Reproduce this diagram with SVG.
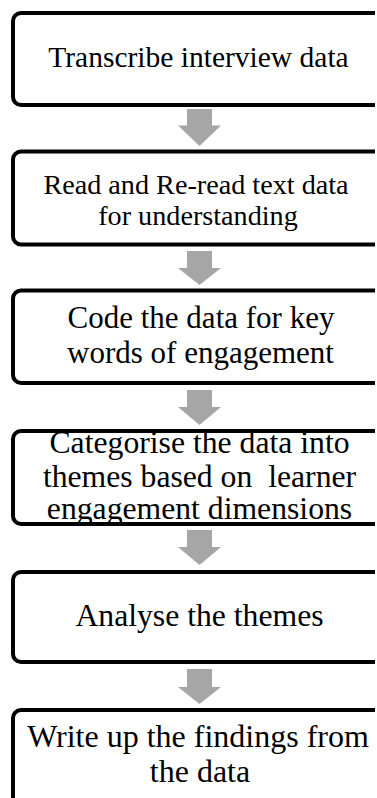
<svg xmlns="http://www.w3.org/2000/svg" width="377" height="798" viewBox="0 0 377 798">
  <defs>
    <clipPath id="page">
      <rect x="0" y="0" width="375" height="798"/>
    </clipPath>
    <style>
      .box { fill: #ffffff; stroke: #000000; stroke-width: 4; }
      .arrow { fill: #a6a6a6; stroke: none; }
      .label { font-family: "Liberation Serif", "Times New Roman", serif; fill: #000000; text-anchor: middle; }
    </style>
  </defs>
  <rect x="0" y="0" width="377" height="798" fill="#ffffff"/>

  <g id="connectors">
    <polygon class="arrow" points="187,109 212,109 212,125.5 221,125.5 199.5,146 178,125.5 187,125.5"/>
    <polygon class="arrow" points="187,251 212,251 212,268 221,268 199.5,285 178,268 187,268"/>
    <polygon class="arrow" points="187,390 212,390 212,407 221,407 199.5,425 178,407 187,407"/>
    <polygon class="arrow" points="187,530 212,530 212,547 221,547 199.5,565 178,547 187,547"/>
    <polygon class="arrow" points="187,669 212,669 212,687 221,687 199.5,704 178,687 187,687"/>
  </g>

  <g id="step1">
    <rect class="box" x="13" y="13" width="373" height="92" rx="8" clip-path="url(#page)"/>
    <text class="label" x="198.5" y="67" font-size="29.5">Transcribe interview data</text>
  </g>

  <g id="step2">
    <rect class="box" x="13" y="151.5" width="373" height="93" rx="8" clip-path="url(#page)"/>
    <text class="label" x="196" y="194" font-size="28.2">Read and Re-read text data</text>
    <text class="label" x="198" y="225" font-size="28.2">for understanding</text>
  </g>

  <g id="step3">
    <rect class="box" x="13" y="290.5" width="373" height="92.5" rx="8" clip-path="url(#page)"/>
    <text class="label" x="201" y="328" font-size="31">Code the data for key</text>
    <text class="label" x="200.5" y="363" font-size="31">words of engagement</text>
  </g>

  <g id="step4">
    <rect class="box" x="13" y="431" width="373" height="93" rx="8" clip-path="url(#page)"/>
    <text class="label" x="199.5" y="453" font-size="31.7">Categorise the data into</text>
    <text class="label" x="199.5" y="486.5" font-size="31.7" xml:space="preserve">themes based on  learner</text>
    <text class="label" x="199.5" y="518.5" font-size="31.7">engagement dimensions</text>
  </g>

  <g id="step5">
    <rect class="box" x="13" y="572" width="373" height="90" rx="8" clip-path="url(#page)"/>
    <text class="label" x="199.5" y="626" font-size="31.7">Analyse the themes</text>
  </g>

  <g id="step6">
    <rect class="box" x="13" y="710" width="373" height="100" rx="8" clip-path="url(#page)"/>
    <text class="label" x="198" y="746.5" font-size="32">Write up the findings from</text>
    <text class="label" x="200" y="781.5" font-size="32">the data</text>
  </g>
</svg>
